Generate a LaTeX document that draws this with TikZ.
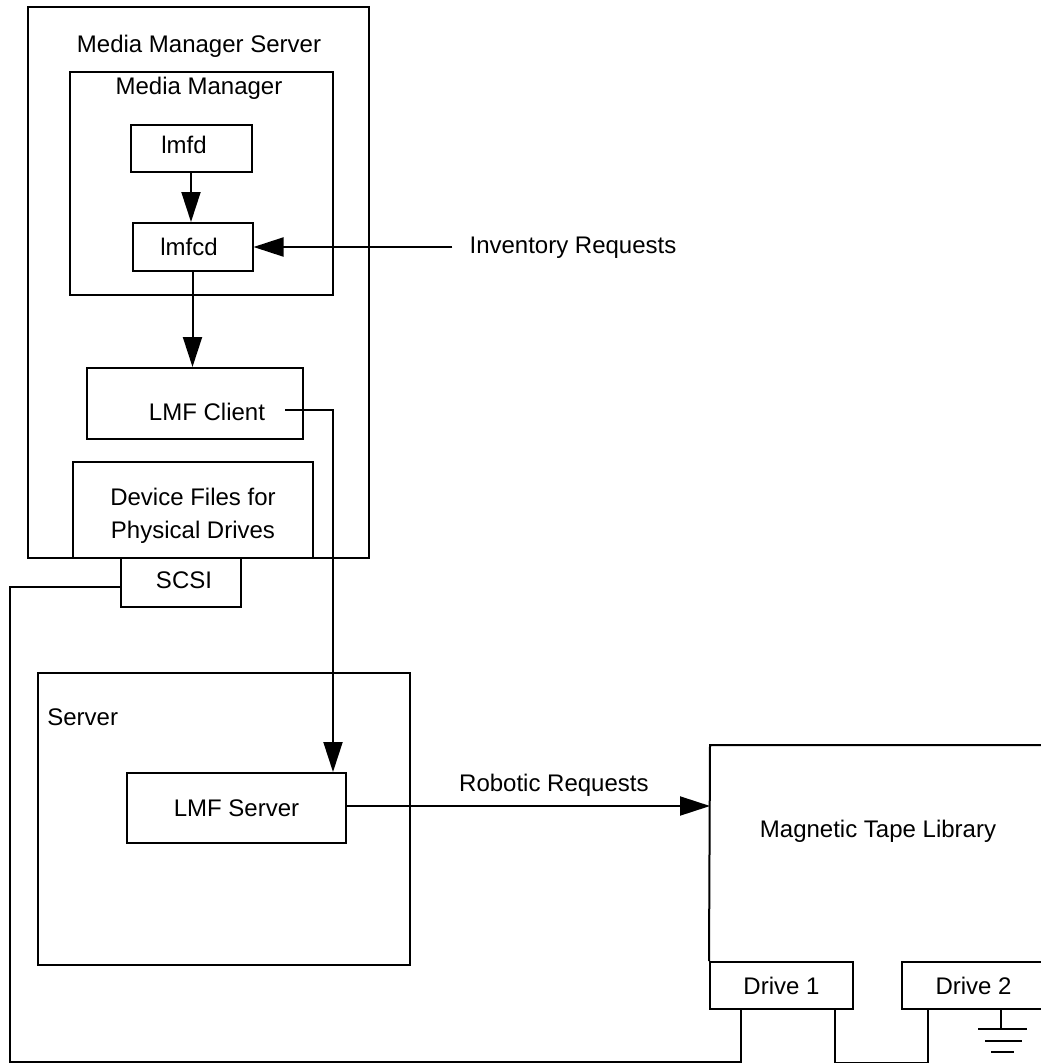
\documentclass[tikz,border=0pt]{standalone}
\usepackage{fontspec}
\setmainfont{Liberation Sans}
\usetikzlibrary{arrows.meta}

\begin{document}
\begin{tikzpicture}[x=1pt,y=-1pt,line width=2pt,
  every node/.style={font=\fontsize{24}{33}\selectfont},
  box/.style={draw,inner sep=0pt,line width=2pt},
  arr/.style={-{Triangle[length=30pt,width=19pt]}}]
\useasboundingbox (0,0) rectangle (1041,1063);
% media manager server
\node[box,minimum width=341pt,minimum height=551pt] (mms) at (198.5,282.5) {};
\node[box,minimum width=263pt,minimum height=223pt] (mm) at (201.5,183.5) {};
\node (mmslabel) at (199,46) {Media Manager Server};
\node (mmlabel) at (199,88) {Media Manager};
\node[box,minimum width=121pt,minimum height=47pt,
  label={[xshift=-7pt,yshift=3.5pt]center:lmfd}] (lmfd) at (191,148.5) {};
\node[box,minimum width=120pt,minimum height=48pt,
  label={[xshift=-3.5pt]center:lmfcd}] (lmfcd) at (192.5,247) {};
\node (invreq) at (573,248) {Inventory Requests};
\node[box,minimum width=216pt,minimum height=71pt,
  label={[xshift=12pt,yshift=-8.5pt]center:LMF Client}] (lmfclient) at (195,403.5) {};
\node[box,minimum width=240pt,minimum height=96pt,
  label={[align=center,yshift=-5.5pt]center:Device Files for\\Physical Drives}] (devfiles) at (193,510) {};
\node[box,minimum width=120pt,minimum height=49pt,
  label={[xshift=3pt,yshift=2.5pt]center:SCSI}] (scsi) at (181,582.5) {};
% server
\node[box,minimum width=372pt,minimum height=292pt] (server) at (224,819) {};
\node[anchor=west] (serverlabel) at (43,717) {Server};
\node[box,minimum width=219pt,minimum height=70pt] (lmfserver) at (236.5,808) {LMF Server};
% tape library
\coordinate (libtl) at (710,745);
\node (tapelib) at (878,831) {Magnetic Tape Library};
\node[box,minimum width=143pt,minimum height=47pt] (drive1) at (781.5,985.5) {Drive 1};
\node[box,minimum width=143pt,minimum height=47pt] (drive2) at (973.5,985.5) {Drive 2};
\draw (drive1.north west) -- (libtl) -- (1041,745);
% requests
\draw[arr] (lmfd.south) -- (lmfd.south |- lmfcd.north);
\draw[arr] ([xshift=-13pt]invreq.west |- lmfcd.east) -- (lmfcd.east);
\draw[arr] (lmfcd.south) -- (lmfcd.south |- lmfclient.north);
\draw[arr] ([xshift=-19pt,yshift=-6.5pt]lmfclient.east) -| ([xshift=96.5pt]lmfserver.north);
\draw[arr] ([yshift=2pt]lmfserver.east) -- node[pos=0.57,above=5pt] (robreq) {Robotic Requests} ([yshift=2pt]lmfserver.east -| libtl);
% cabling
\coordinate (busleft) at (10,1062);
\draw ([yshift=-4pt]scsi.west) -| (busleft) -| ([xshift=-40.5pt]drive1.south);
\draw ([xshift=53.5pt]drive1.south) -- ++(0,53) -| ([xshift=-45.5pt]drive2.south);
\coordinate (gnd) at ([xshift=27.5pt]drive2.south);
\draw (gnd) -- ++(0,19) ++(-23,0) -- ++(49,0) ++(-42,12) -- ++(37,0) ++(-31,11) -- ++(23,0);
\end{tikzpicture}
\end{document}
